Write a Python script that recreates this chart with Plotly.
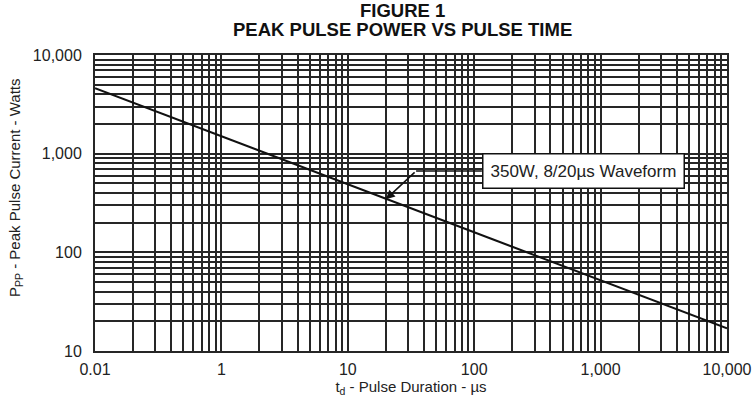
import math
import plotly.graph_objects as go

# ---- data (values in the units printed on the axes) ----
pulse_duration_us = [0.01, 10000]        # x, µs
peak_pulse_power_w = [4600, 17]           # y, W
x_tick_labels = ["0.01", "1", "10", "100", "1,000", "10,000"]
x_tick_values = [0.01, 1, 10, 100, 1000, 10000]
y_tick_labels = ["10", "100", "1,000", "10,000"]
y_tick_values = [10, 100, 1000, 10000]
annotation_text = "350W, 8/20\u00b5s Waveform"
annotation_point = (20, 345)  # (µs, W) where the arrow points


def to_axis(v):
    """The printed chart squeezes 0.01..1 into a single decade."""
    if v >= 1:
        return v
    return 10 ** (math.log10(v) / 2)


def grid_vals(lo_exp, hi_exp):
    vals = []
    for e in range(lo_exp, hi_exp):
        for m in range(1, 10):
            vals.append(m * 10 ** e)
    vals.append(10 ** hi_exp)
    return vals


x_grid = grid_vals(-1, 4)
y_grid = grid_vals(1, 4)
x_label_map = {round(math.log10(to_axis(v)), 6): t for v, t in zip(x_tick_values, x_tick_labels)}
y_label_map = {round(math.log10(v), 6): t for v, t in zip(y_tick_values, y_tick_labels)}
x_text = [x_label_map.get(round(math.log10(v), 6), "") for v in x_grid]
y_text = [y_label_map.get(round(math.log10(v), 6), "") for v in y_grid]

FONT = "Liberation Sans, Arial, sans-serif"
GRID = "#262626"

fig = go.Figure()
fig.add_trace(go.Scatter(
    x=[to_axis(v) for v in pulse_duration_us],
    y=peak_pulse_power_w,
    mode="lines",
    line=dict(color="#111111", width=2),
    hoverinfo="skip",
    showlegend=False,
))

axis_common = dict(
    type="log",
    automargin=False,
    showgrid=True,
    gridcolor=GRID,
    gridwidth=1.7,
    showline=True,
    linecolor=GRID,
    linewidth=2,
    mirror=True,
    ticks="",
    zeroline=False,
    tickfont=dict(family=FONT, size=16, color="#222222"),
    tickmode="array",
)

fig.update_xaxes(
    **axis_common,
    range=[-1, 4],
    tickvals=x_grid,
    ticktext=x_text,
    ticklabelstandoff=3,
    title=dict(text="t<sub>d</sub> - Pulse Duration - \u00b5s",
               font=dict(family=FONT, size=15, color="#222222"), standoff=0),
)
fig.update_yaxes(
    **axis_common,
    range=[1, 4],
    tickvals=y_grid,
    ticktext=y_text,
    ticklabelstandoff=8,
)

# y-axis title placed as rotated text
fig.add_annotation(
    text="P<sub>PP</sub> - Peak Pulse Current - Watts",
    xref="paper", yref="paper", x=0, y=0.5, xanchor="center", yanchor="middle",
    xshift=-80, yshift=15, textangle=-90, showarrow=False,
    font=dict(family=FONT, size=15, color="#222222"),
)

# leader: arrow from knee to the curve, then horizontal to the box
ax_pt = to_axis(annotation_point[0])
knee = (34.7, 668)
box_left = (115, 668)
fig.add_annotation(
    x=math.log10(ax_pt), y=math.log10(annotation_point[1]),
    ax=math.log10(knee[0]), ay=math.log10(knee[1]),
    axref="x", ayref="y", xref="x", yref="y",
    text="", showarrow=True, arrowhead=2, arrowsize=1.2, arrowwidth=1.5,
    arrowcolor="#111111",
)
fig.add_shape(type="line", xref="x", yref="y",
              x0=knee[0], y0=knee[1], x1=box_left[0], y1=box_left[1],
              line=dict(color="#111111", width=1.5))
fig.add_annotation(
    x=math.log10(box_left[0]), y=math.log10(box_left[1]),
    xref="x", yref="y", xanchor="left", yanchor="middle",
    text=annotation_text, showarrow=False,
    font=dict(family=FONT, size=17, color="#222222"),
    bgcolor="white", bordercolor="#111111", borderwidth=1.5, borderpad=7,
)

fig.add_annotation(
    text="<b>FIGURE 1</b>", xref="paper", yref="paper", x=0.486, y=1.0,
    yanchor="middle", yshift=45, showarrow=False,
    font=dict(family=FONT, size=18.5, color="#111111"),
)
fig.add_annotation(
    text="<b>PEAK PULSE POWER VS PULSE TIME</b>", xref="paper", yref="paper", x=0.486, y=1.0,
    yanchor="middle", yshift=26, showarrow=False,
    font=dict(family=FONT, size=18.5, color="#111111"),
)

fig.update_layout(
    width=755, height=404,
    margin=dict(l=95, r=28, t=55, b=53, autoexpand=False),
    paper_bgcolor="white", plot_bgcolor="white",
)

fig.write_html("out.html", config={"displayModeBar": False},
               post_script="document.body.style.margin='0';")
